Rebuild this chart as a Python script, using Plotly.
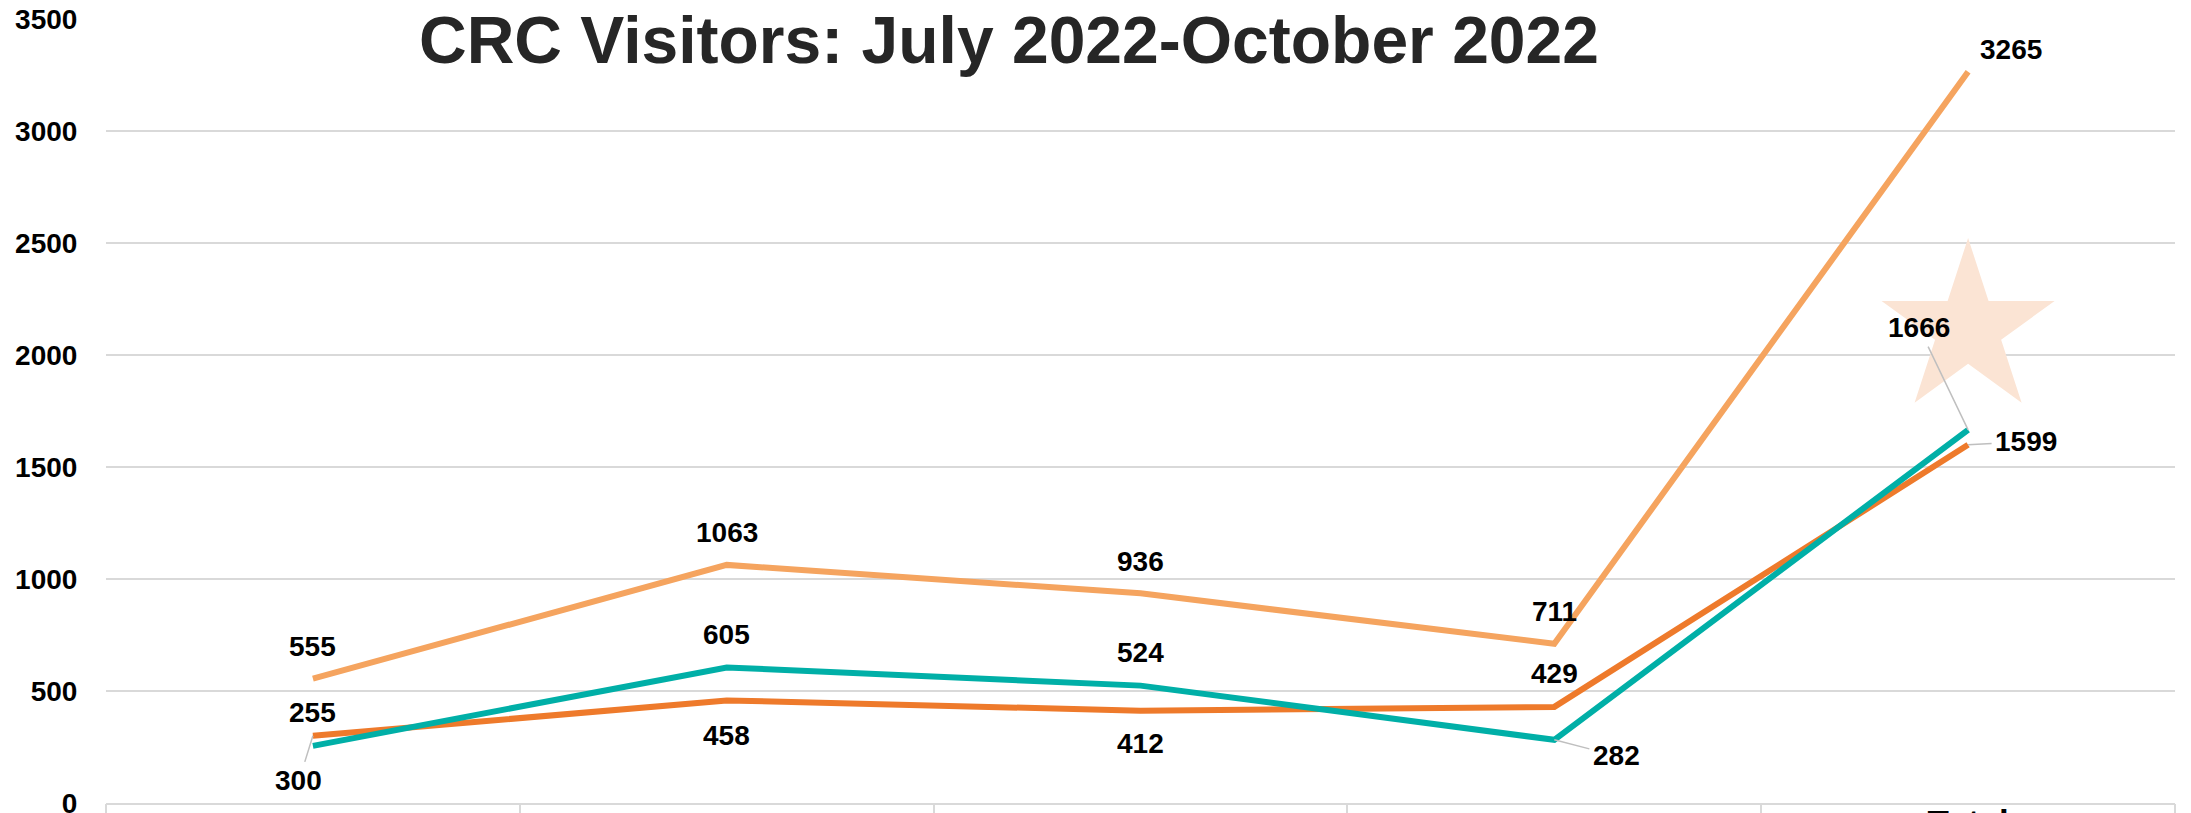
import plotly.graph_objects as go

# ---- data ----
categories = ["July", "August", "September", "October", "Total"]
series_light = [555, 1063, 936, 711, 3265]     # light orange line
series_teal = [255, 605, 524, 282, 1666]       # teal line
series_dark = [300, 458, 412, 429, 1599]       # dark orange line
y_ticks = [0, 500, 1000, 1500, 2000, 2500, 3000, 3500]
title_text = "CRC Visitors: July 2022-October 2022"

# ---- styles ----
C_LIGHT = "#F5A45F"
C_TEAL = "#00AFA7"
C_DARK = "#EE7A2B"
C_STAR = "#FBE4D4"
C_GRID = "#D9D9D9"
FONT = "Liberation Sans, Arial, sans-serif"
LBL = dict(family=FONT, size=28, color="#000000", weight="bold")

fig = go.Figure()

# highlight star behind the Total label of the teal series
fig.add_trace(go.Scatter(
    x=[categories[-1]], y=[series_teal[-1] + 450], mode="markers",
    marker=dict(symbol="star", size=130, color=C_STAR, line=dict(width=0)),
    hoverinfo="skip", showlegend=False))

for vals, col in [(series_dark, C_DARK), (series_teal, C_TEAL), (series_light, C_LIGHT)]:
    fig.add_trace(go.Scatter(
        x=categories, y=vals, mode="lines",
        line=dict(color=col, width=6), hoverinfo="skip", showlegend=False))

# invisible trace for the category-boundary dividers axis
bounds = [i - 0.5 for i in range(len(categories) + 1)]
fig.add_trace(go.Scatter(x=bounds, y=[None] * len(bounds), xaxis="x2",
                         mode="lines", hoverinfo="skip", showlegend=False))

# ---- data labels ----
def lab(x, y, text, xs=0, ys=0):
    fig.add_annotation(x=x, y=y, text=str(text), showarrow=False,
                       xshift=xs, yshift=ys, xanchor="center", yanchor="middle",
                       font=LBL)

def lab_arrow(x, y, text, ax, ay):
    fig.add_annotation(x=x, y=y, text=str(text), showarrow=True,
                       ax=ax, ay=ay, arrowhead=0, arrowwidth=1.5,
                       arrowcolor="#BFBFBF", standoff=0, startstandoff=2,
                       xanchor="center", yanchor="middle", font=LBL)

# light orange: above, last one up-right
for i in range(4):
    lab(categories[i], series_light[i], series_light[i], ys=32)
lab(categories[4], series_light[4], series_light[4], xs=43, ys=22)

# teal: above, except October (below right) and Total (in star)
for i in range(3):
    lab(categories[i], series_teal[i], series_teal[i], ys=33)
lab_arrow(categories[3], series_teal[3], series_teal[3], 62, 16)
lab_arrow(categories[4], series_teal[4], series_teal[4], -49, -102)

# dark orange
lab_arrow(categories[0], series_dark[0], series_dark[0], -14, 45)
lab(categories[1], series_dark[1], series_dark[1], ys=-35)
lab(categories[2], series_dark[2], series_dark[2], ys=-33)
lab(categories[3], series_dark[3], series_dark[3], ys=33)
lab_arrow(categories[4], series_dark[4], series_dark[4], 58, -3)

# month labels smaller than the "Total" label
tick_text = ["<span style='font-size:27px'>%s</span>" % c for c in categories[:-1]] + [categories[-1]]

fig.update_layout(
    width=2191, height=813,
    margin=dict(l=106, r=16, t=19, b=10),
    paper_bgcolor="white", plot_bgcolor="white",
    font=dict(family=FONT, color="#000000"),
    title=dict(text=title_text, xref="container", yref="container",
               x=1009 / 2191, xanchor="center", y=1 - 40 / 813, yanchor="middle",
               font=dict(family=FONT, size=66, color="#262626", weight="bold")),
    xaxis=dict(type="category", categoryorder="array", categoryarray=categories,
               tickmode="array", tickvals=categories, ticktext=tick_text,
               range=[-0.5, len(categories) - 0.5], showgrid=False,
               showline=True, linecolor=C_GRID, linewidth=2,
               ticks="", automargin=False, ticklabeloverflow="allow",
               ticklabelstandoff=-12,
               tickfont=dict(family=FONT, size=35, color="#000000", weight="bold")),
    xaxis2=dict(overlaying="x", anchor="y", side="bottom", type="linear",
                range=[-0.5, len(categories) - 0.5], tickmode="array",
                tickvals=bounds, showticklabels=False, ticks="outside",
                ticklen=30, tickwidth=2, tickcolor=C_GRID, showgrid=False,
                showline=False, zeroline=False, automargin=False),
    yaxis=dict(range=[0, 3500], tickmode="array", tickvals=y_ticks,
               showgrid=True, gridcolor=C_GRID, gridwidth=2,
               zeroline=False, showline=False, ticklabeloverflow="allow",
               ticks="outside", ticklen=22, tickcolor="rgba(0,0,0,0)",
               tickfont=dict(family=FONT, size=28, color="#000000", weight="bold"),
               automargin=False),
)

fig.write_html("out.html", config={"displayModeBar": False},
               post_script="document.body.style.margin='0';document.body.style.overflow='hidden';")
